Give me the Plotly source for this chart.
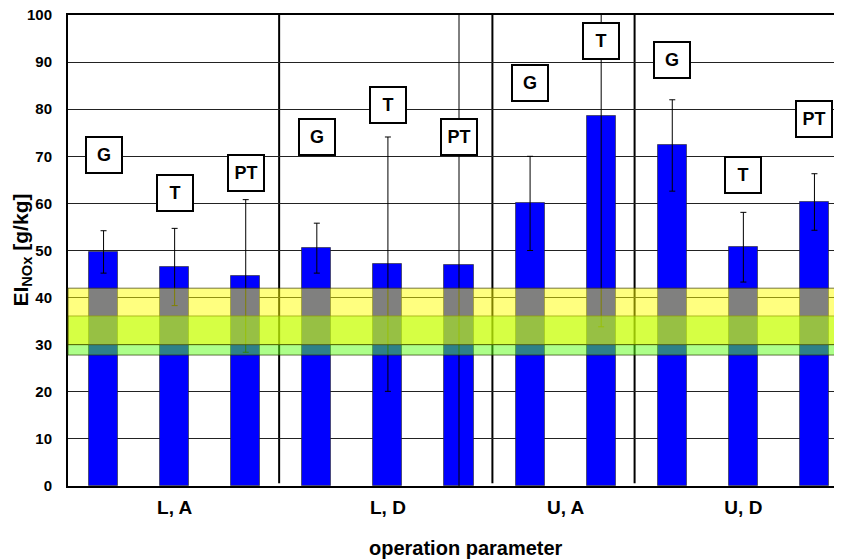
import plotly.graph_objects as go

# ---- data ----
groups = ["L, A", "L, D", "U, A", "U, D"]
group_sizes = [3, 3, 2, 3]
bar_labels = ["G", "T", "PT", "G", "T", "PT", "G", "T", "G", "T", "PT"]
ei_nox = [49.7, 46.5, 44.6, 50.5, 47.1, 46.9, 60.0, 78.6, 72.3, 50.7, 60.3]
ei_err = [4.5, 8.2, 16.2, 5.3, 27.0, 56.0, 10.0, 44.8, 9.7, 7.4, 6.0]
label_y = [70.2, 62.2, 66.5, 74.1, 80.8, 74.1, 85.5, 94.5, 90.4, 66.0, 77.9]
band_yellow = (30.0, 42.0)
band_green = (27.8, 36.1)
y_ticks = [0, 10, 20, 30, 40, 50, 60, 70, 80, 90, 100]

# slot positions derived from group sizes
x_pos = list(range(len(ei_nox)))
group_centers = []
boundaries = []
start = 0
for n in group_sizes:
    group_centers.append(start + (n - 1) / 2)
    start += n
    boundaries.append(start - 0.5)
boundaries = boundaries[:-1]

FONT = "Arial, Liberation Sans, sans-serif"

fig = go.Figure()
fig.add_trace(go.Bar(
    x=x_pos, y=ei_nox, width=0.41,
    marker=dict(color="#0000FF", line=dict(color="rgba(40,40,40,0.6)", width=1)),
    error_y=dict(type="data", array=ei_err, visible=True, color="black",
                 thickness=1, width=3),
    hoverinfo="skip",
))

shapes = []
# group separators (under the bands)
for b in boundaries:
    shapes.append(dict(type="line", xref="x", yref="y", x0=b - 0.03, x1=b - 0.03,
                       y0=0.6, y1=100, layer="below",
                       line=dict(color="black", width=2)))
# green band then yellow band on top (semi-transparent, above bars)
shapes.append(dict(type="rect", xref="paper", yref="y", x0=0, x1=1,
                   y0=band_green[0], y1=band_green[1], layer="above",
                   fillcolor="rgba(92,255,20,0.5)",
                   line=dict(color="rgba(40,60,0,0.7)", width=1)))
shapes.append(dict(type="rect", xref="paper", yref="y", x0=0, x1=1,
                   y0=band_yellow[0], y1=band_yellow[1], layer="above",
                   fillcolor="rgba(255,255,0,0.5)",
                   line=dict(color="rgba(60,60,0,0.7)", width=1)))

annotations = []
for x, y, t in zip(x_pos, label_y, bar_labels):
    annotations.append(dict(x=x, y=y, xref="x", yref="y", text=t, showarrow=False,
                            font=dict(family=FONT, size=18, color="black", weight="bold"),
                            bgcolor="white", bordercolor="black", borderwidth=2,
                            borderpad=0, width=34, height=34))
# axis titles
annotations.append(dict(x=-0.06, y=0.5, xref="paper", yref="paper",
                        text="EI<sub>NOx</sub> [g/kg]", showarrow=False,
                        textangle=-90, xanchor="center", yanchor="middle",
                        font=dict(family=FONT, size=21, color="black", weight="bold")))
annotations.append(dict(x=0.509, y=-0.1316, xref="paper", yref="paper",
                        text="operation parameter", showarrow=False,
                        xanchor="center", yanchor="middle",
                        font=dict(family=FONT, size=20, color="black", weight="bold")))

fig.update_layout(
    width=842, height=559,
    margin=dict(l=60, r=0, t=7, b=81, autoexpand=False),
    paper_bgcolor="white", plot_bgcolor="white",
    showlegend=False, bargap=0,
    shapes=shapes, annotations=annotations,
    font=dict(family=FONT, color="black"),
)
fig.update_xaxes(
    range=[-0.5, 10.5], tickmode="array", tickvals=group_centers, ticktext=groups,
    showgrid=False, zeroline=False, showline=True, linecolor="black", linewidth=2,
    mirror=True, ticks="", ticklabelstandoff=3, automargin=False,
    tickfont=dict(family=FONT, size=19, weight="bold"),
)
fig.update_yaxes(
    range=[0, 100], tickmode="array", tickvals=y_ticks,
    showgrid=True, gridcolor="#222222", gridwidth=1.2, zeroline=False,
    showline=True, linecolor="black", linewidth=2, ticks="", ticklabelstandoff=11,
    automargin=False, ticklabeloverflow="allow",
    tickfont=dict(family=FONT, size=15, weight="bold"),
)

fig.write_html("out.html")
